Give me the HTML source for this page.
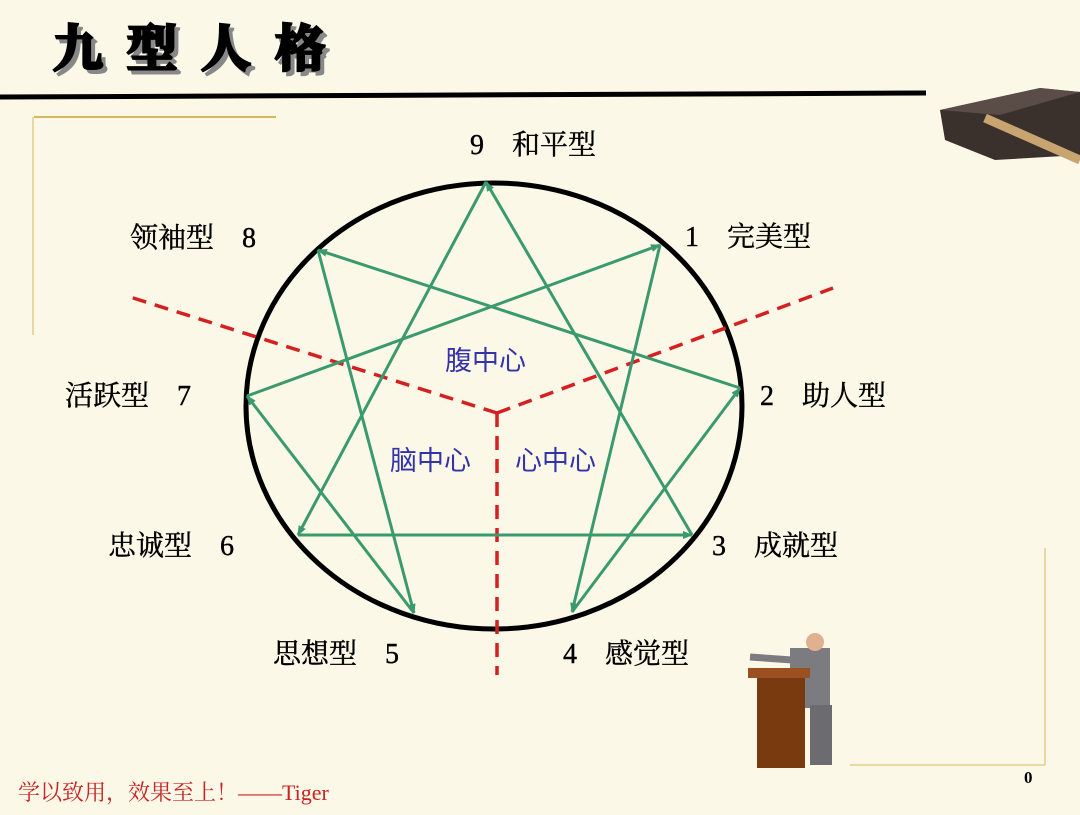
<!DOCTYPE html>
<html><head><meta charset="utf-8"><style>
body{margin:0;width:1080px;height:810px;overflow:hidden;background:#fcf8e8;font-family:"Liberation Serif","Noto Serif CJK SC",serif;}
</style></head><body>
<svg width="1080" height="810" viewBox="0 0 1080 810" xmlns="http://www.w3.org/2000/svg">
<defs><marker id="ah" markerWidth="10" markerHeight="8" refX="9" refY="4" orient="auto" markerUnits="userSpaceOnUse"><path d="M0,0 L10,4 L0,8 Z" fill="#3a9a6e"/></marker></defs>
<rect width="1080" height="810" fill="#fcf8e8"/>
<g>
<text x="57" y="70" font-size="50" font-weight="bold" fill="#888" stroke="#888" stroke-width="3" font-family="'Noto Serif CJK SC',serif" letter-spacing="24">九型人格</text>
<text x="53" y="66" font-size="50" font-weight="bold" fill="#000" stroke="#000" stroke-width="3" font-family="'Noto Serif CJK SC',serif" letter-spacing="24">九型人格</text>
</g>
<line x1="0" y1="97" x2="926" y2="93" stroke="#000" stroke-width="5"/>
<g stroke="#d6b860" stroke-width="2">
<line x1="34" y1="117" x2="276" y2="117"/><line x1="33" y1="117" x2="33" y2="335" stroke-width="1"/>
<line x1="1045" y1="548" x2="1045" y2="765" stroke-width="1"/><line x1="850" y1="765" x2="1045" y2="765" stroke-width="1"/>
</g>
<g>
<path d="M940,110 L1040,88 L1080,92 L1080,155 L995,160 L945,140 Z" fill="#3a302c"/>
<path d="M940,110 L1040,88 L1080,92 L1000,115 Z" fill="#5a4d48"/>
<line x1="985" y1="118" x2="1080" y2="160" stroke="#c8a470" stroke-width="9"/>
</g>
<g id="diagram"></g>
<g>
<rect x="790" y="648" width="40" height="60" fill="#7b7b80"/>
<circle cx="815" cy="642" r="9" fill="#e0b090"/>
<line x1="792" y1="660" x2="750" y2="657" stroke="#7b7b80" stroke-width="7"/>
<rect x="757" y="672" width="48" height="96" fill="#7a3a10"/>
<rect x="748" y="668" width="62" height="10" fill="#9a5020"/>
<rect x="810" y="705" width="22" height="60" fill="#6b6b70"/>
</g>
<text x="18" y="800" font-size="22" fill="#cc2222" font-family="'Liberation Serif','Noto Serif CJK SC',serif">学以致用，效果至上！——Tiger</text>
<text x="1024" y="783" font-size="17" font-weight="bold" fill="#000">0</text>
</svg>
<script>
const nodeIds=[9,1,2,3,4,5,6,7,8];
const nodeX=[486,660,740,692,572,414,298,247,318];
const nodeY=[182,245,388,535,612,613,535,396,250];
const nodeLabels=["9　和平型","1　完美型","2　助人型","3　成就型","4　感觉型","思想型　5","忠诚型　6","活跃型　7","领袖型　8"];
const labelX=[470,685,760,712,563,273,108,65,130];
const labelY=[154,246,405,555,663,663,555,405,247];
const arrows=[[1,4],[4,2],[2,8],[8,5],[5,7],[7,1],[9,6],[6,3],[3,9]];
const centers=["腹中心","脑中心","心中心"];
const centerX=[445,390,515];
const centerY=[370,470,470];
const NS="http://www.w3.org/2000/svg";
const g=document.getElementById('diagram');
function mk(t,a){const e=document.createElementNS(NS,t);for(const k in a)e.setAttribute(k,a[k]);g.appendChild(e);return e;}
const circ=mk('ellipse',{cx:494,cy:406,rx:248,ry:223,fill:'none',stroke:'#000','stroke-width':5});


[[130,297],[833,288],[497,675]].forEach(function(p,i){
const l=mk('line',{x1:497,y1:413,x2:p[0],y2:p[1],stroke:'#d42020','stroke-width':3.5,'stroke-dasharray':'14,9'});


});
function pos(id){const i=nodeIds.indexOf(id);return [nodeX[i],nodeY[i]];}
arrows.forEach(function(a){
const p=pos(a[0]),q=pos(a[1]);
const l=mk('line',{x1:p[0],y1:p[1],x2:q[0],y2:q[1],stroke:'#3a9a6e','stroke-width':3,'marker-end':'url(#ah)'});


});
nodeLabels.forEach(function(s,i){
const t=mk('text',{x:labelX[i],y:labelY[i],'font-size':28,fill:'#000',stroke:'#000','stroke-width':0.4});
t.textContent=s;


});
centers.forEach(function(s,i){
const t=mk('text',{x:centerX[i],y:centerY[i],'font-size':27,fill:'#3333aa','font-family':"'Noto Sans CJK SC',sans-serif"});
t.textContent=s;


});
</script>
</body></html>
